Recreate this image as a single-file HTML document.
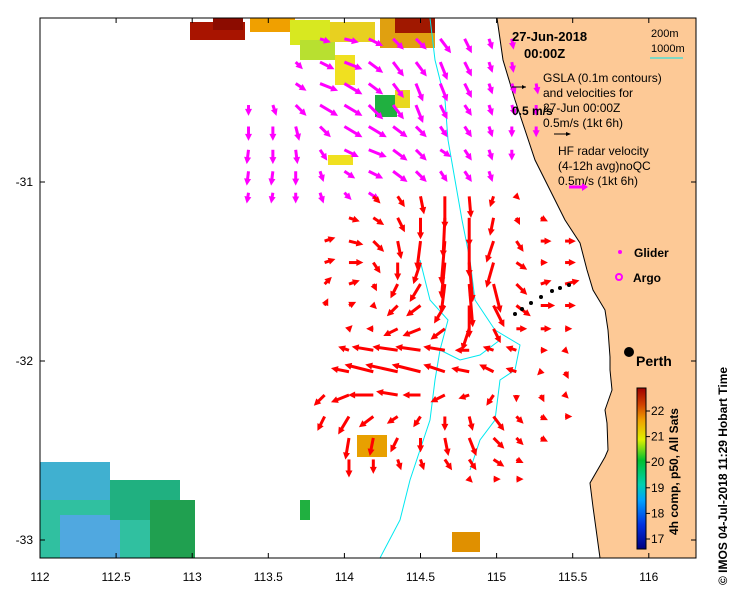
<!DOCTYPE html>
<html><head><meta charset="utf-8"><style>
body{margin:0;background:#fff;font-family:"Liberation Sans",sans-serif}
svg text{font-family:"Liberation Sans",sans-serif}
</style></head><body>
<svg id="c" width="739" height="592" xmlns="http://www.w3.org/2000/svg">
<rect width="739" height="592" fill="#fff"/>
<g id="sst">
<rect x="190" y="22" width="55" height="18" fill="#a81400"/>
<rect x="213" y="18" width="30" height="12" fill="#8c0c00"/>
<rect x="250" y="18" width="45" height="14" fill="#f0a000"/>
<rect x="290" y="20" width="40" height="25" fill="#d8e820"/>
<rect x="300" y="40" width="35" height="20" fill="#b8e030"/>
<rect x="330" y="22" width="45" height="20" fill="#e8d020"/>
<rect x="380" y="18" width="55" height="30" fill="#e0a010"/>
<rect x="395" y="18" width="40" height="15" fill="#a01800"/>
<rect x="335" y="55" width="20" height="30" fill="#f0e020"/>
<rect x="375" y="95" width="22" height="22" fill="#20b040"/>
<rect x="395" y="90" width="15" height="18" fill="#e8d820"/>
<rect x="328" y="155" width="25" height="10" fill="#f0e020"/>
<rect x="357" y="435" width="30" height="22" fill="#e8a000"/>
<rect x="452" y="532" width="28" height="20" fill="#e09000"/>
<rect x="40" y="462" width="70" height="40" fill="#40b0d0"/>
<rect x="40" y="500" width="120" height="58" fill="#30c0a0"/>
<rect x="60" y="515" width="60" height="43" fill="#50a8e0"/>
<rect x="110" y="480" width="70" height="40" fill="#20b080"/>
<rect x="150" y="500" width="45" height="58" fill="#20a050"/>
<rect x="300" y="500" width="10" height="20" fill="#20b040"/>
</g>
<path d="M497,18 L503,60 L515,100 L525,130 L535,160 L550,190 L565,220 L580,243 L587,270 L593,290 L605,310 L608,330 L610,357 L610,370 L612,390 L605,410 L607,423 L608,450 L605,457 L590,483 L593,507 L600,558 L696,558 L696,18 Z" fill="#fdc996" stroke="#000" stroke-width="1"/>
<g fill="none" stroke="#00e8f0" stroke-width="1">
<path d="M430,18 L435,60 L445,100 L448,140 L455,180 L462,220 L470,260 L475,300 L495,330 L520,345 L515,370 L500,380 L495,420 L480,440 L470,470"/>
<path d="M420,260 L430,300 L448,320 L440,350 L435,380 L430,420 L420,450 L410,480 L400,520 L380,558"/>
<path d="M440,350 L460,360 L480,355 L500,340"/>
</g>
<g id="arrows"></g>
<g fill="#000">
<circle cx="515" cy="314" r="2"/><circle cx="522" cy="309" r="2"/><circle cx="531" cy="303" r="2"/><circle cx="541" cy="297" r="2"/><circle cx="552" cy="291" r="2"/><circle cx="560" cy="288" r="2"/><circle cx="569" cy="285" r="2"/>
</g>
<rect x="40" y="18" width="656" height="540" fill="none" stroke="#000"/>
<g id="axes"></g>
<g font-weight="bold" font-size="13"><text x="512" y="41">27-Jun-2018</text><text x="524" y="58">00:00Z</text></g>
<g font-size="11"><text x="651" y="37">200m</text><text x="651" y="52">1000m</text><line x1="650" y1="58" x2="683" y2="58" stroke="#00e8f0"/></g>
<g font-size="12">
<text x="543" y="82">GSLA (0.1m contours)</text><text x="543" y="97">and velocities for</text><text x="543" y="112">27-Jun 00:00Z</text><text x="543" y="127">0.5m/s (1kt 6h)</text>
<line x1="512" y1="87" x2="526" y2="87" stroke="#000"/><path d="M526,87 l-4,-2 v4z"/>
<line x1="554" y1="134" x2="570" y2="134" stroke="#000"/><path d="M571,134 l-5,-2 v4z"/>
<text x="512" y="115" font-weight="bold" font-size="12">0.5 m/s</text>
<text x="558" y="155">HF radar velocity</text><text x="558" y="170">(4-12h avg)noQC</text><text x="558" y="185">0.5m/s (1kt 6h)</text>
<line x1="569" y1="187" x2="583" y2="187" stroke="#ff00ff" stroke-width="3"/><path d="M588,187 l-6,-4 v8z" fill="#ff00ff"/>
</g>
<g font-size="12" font-weight="bold">
<circle cx="620" cy="252" r="2" fill="#ff00ff"/><text x="634" y="257">Glider</text>
<circle cx="619" cy="277" r="3" fill="none" stroke="#ff00ff" stroke-width="2"/><text x="633" y="282">Argo</text>
</g>
<g><circle cx="629" cy="352" r="5" fill="#000"/><text x="636" y="366" font-size="14" font-weight="bold">Perth</text></g>
<defs><linearGradient id="cb" x1="0" y1="1" x2="0" y2="0">
<stop offset="0" stop-color="#000080"/><stop offset="0.15" stop-color="#0030e0"/><stop offset="0.3" stop-color="#00a0ff"/><stop offset="0.4" stop-color="#00d0b0"/><stop offset="0.55" stop-color="#00c030"/><stop offset="0.68" stop-color="#e0f000"/><stop offset="0.8" stop-color="#f0a000"/><stop offset="0.9" stop-color="#d04000"/><stop offset="1" stop-color="#a00000"/></linearGradient></defs>
<g>
<rect x="637" y="388" width="9" height="161" fill="url(#cb)" stroke="#000"/>
<g id="cbticks" font-size="12"></g>
<text transform="translate(678,535) rotate(-90)" font-size="12" font-weight="bold">4h comp, p50, All Sats</text>
</g>
<text transform="translate(727,585) rotate(-90)" font-size="12" font-weight="bold">© IMOS 04-Jul-2018 11:29 Hobart Time</text>
</svg>
<script>
const xTicks=[112,112.5,113,113.5,114,114.5,115,115.5,116];
const xTickLabels=["112","112.5","113","113.5","114","114.5","115","115.5","116"];
const yTicks=[-31,-32,-33];
const yTickLabels=["-31","-32","-33"];
const cbTicks=[17,18,19,20,21,22];
const redLon=[113.87,114.03,114.19,114.35,114.5,114.66,114.82,114.98,115.13,115.29,115.45,115.61];
const redLat=[-31.08,-31.2,-31.33,-31.45,-31.57,-31.69,-31.82,-31.94,-32.06,-32.19,-32.31,-32.43,-32.55,-32.66];
const redU=[
[null,null,.2,.2,.1,0,.05,-.1,.1,null,null,null],
[null,.3,.3,.2,0,-.05,0,-.1,.1,.2,null,null],
[.3,.4,.3,.1,-.1,-.1,0,-.2,.2,.3,.3,null],
[.3,.4,.2,0,-.2,-.1,.1,-.2,.3,.2,.3,null],
[.2,.3,.1,-.2,-.3,-.1,.1,.2,.3,.3,.4,null],
[.1,.2,.1,-.3,-.4,-.3,0,.3,.4,.4,.3,null],
[null,.1,-.2,-.4,-.5,-.4,-.2,.2,.3,.3,.2,null],
[null,-.3,-.6,-.7,-.7,-.6,-.4,-.3,-.3,.2,.1,null],
[null,-.5,-.8,-.9,-.8,-.6,-.5,-.4,-.3,-.1,.1,null],
[-.3,-.5,-.7,-.6,-.5,-.4,-.3,-.2,0,.1,.1,null],
[-.2,-.3,-.4,-.3,-.2,0,.1,.3,.2,.2,.2,null],
[null,-.1,-.1,-.2,0,.1,.2,.3,.2,.2,null,null],
[null,0,0,.1,.1,.2,.2,.3,.2,null,null,null],
[null,null,null,null,null,null,.1,.2,.2,null,null,null]];
const redV=[
[null,null,-.2,-.3,-.5,-.9,-.6,-.3,-.1,null,null,null],
[null,-.1,-.2,-.4,-.6,-1.1,-.8,-.5,-.2,-.1,null,null],
[.1,-.1,-.3,-.5,-.8,-1.2,-1,-.6,-.3,0,0,null],
[.1,0,-.3,-.5,-.6,-1,-1.1,-.7,-.2,0,0,null],
[.2,.1,-.2,-.4,-.5,-.8,-1.2,-.8,-.3,.1,.1,null],
[.2,.1,-.1,-.3,-.3,-.5,-.9,-.6,-.3,0,0,null],
[null,.1,0,-.2,-.2,-.3,-.6,-.4,0,0,0,null],
[null,.1,.1,.1,.1,.1,0,.1,.1,0,-.1,null],
[null,.1,.2,.2,.2,.2,.1,.2,.1,-.1,-.2,null],
[-.3,-.2,0,.1,0,-.2,-.1,-.3,-.2,-.2,-.1,null],
[-.4,-.5,-.3,-.2,-.3,-.4,-.4,-.4,-.2,-.1,0,null],
[null,-.6,-.5,-.4,-.4,-.5,-.5,-.3,-.2,-.1,null,null],
[null,-.5,-.4,-.3,-.3,-.3,-.3,-.2,-.1,null,null,null],
[null,null,null,null,null,null,-.1,0,0,null,null,null]];
const magLon=[113.37,113.53,113.68,113.84,114,114.16,114.32,114.47,114.63,114.79,114.95,115.1,115.26];
const magLat=[-30.2,-30.33,-30.45,-30.57,-30.69,-30.82,-30.94,-31.06];
const magU=[
[null,null,null,.3,.4,.4,.3,.3,.3,.2,.1,.05,null],
[null,null,.2,.4,.5,.4,.3,.3,.2,.2,.1,.05,null],
[null,null,.3,.5,.5,.4,.3,.2,.2,.2,.1,.1,.05],
[0,.1,.3,.5,.5,.4,.3,.2,.2,.2,.1,.1,0],
[0,0,.1,.3,.5,.5,.4,.3,.2,.2,.1,0,0],
[-.05,0,.05,.2,.4,.5,.4,.3,.3,.2,.1,0,null],
[-.05,-.05,0,.1,.3,.4,.4,.3,.2,.2,.1,null,null],
[-.05,-.05,0,.1,.2,.3,null,null,null,null,null,null,null]];
const magV=[
[null,null,null,-.1,-.1,-.2,-.3,-.3,-.4,-.4,-.3,-.3,null],
[null,null,-.2,-.2,-.2,-.3,-.4,-.4,-.5,-.4,-.3,-.3,null],
[null,null,-.2,-.2,-.3,-.3,-.4,-.5,-.5,-.4,-.3,-.3,-.3],
[-.3,-.3,-.3,-.3,-.3,-.4,-.4,-.5,-.4,-.3,-.3,-.3,-.3],
[-.4,-.4,-.4,-.3,-.3,-.3,-.3,-.3,-.3,-.3,-.3,-.3,-.3],
[-.4,-.4,-.4,-.3,-.2,-.2,-.3,-.3,-.2,-.3,-.3,-.3,null],
[-.4,-.4,-.4,-.3,-.2,-.2,-.3,-.3,-.3,-.3,-.3,null,null],
[-.3,-.3,-.3,-.3,-.2,-.2,null,null,null,null,null,null,null]];
const NS='http://www.w3.org/2000/svg';
const X=lon=>40+(lon-112)*152.2;
const Y=lat=>182+(-31-lat)*179;
const CB=t=>411+(22-t)*25.6;
const SC=36;
function mk(tag,attrs,parent){const e=document.createElementNS(NS,tag);for(const k in attrs)e.setAttribute(k,attrs[k]);parent.appendChild(e);return e;}
const ax=document.getElementById('axes');
xTicks.forEach((t,i)=>{
 const x=X(t);
 const tk=mk('path',{d:`M${x},558 v-5 M${x},18 v5`,stroke:'#000'},ax);
 
 
 const tx=mk('text',{x:x,y:581,'text-anchor':'middle','font-size':12},ax);
 tx.textContent=xTickLabels[i];
 
 
});
yTicks.forEach((t,i)=>{
 const y=Y(t);
 const tk=mk('path',{d:`M40,${y} h5 M696,${y} h-5`,stroke:'#000'},ax);
 
 
 const tx=mk('text',{x:33,y:y+4,'text-anchor':'end','font-size':12},ax);
 tx.textContent=yTickLabels[i];
 
 
});
const cbg=document.getElementById('cbticks');
cbTicks.forEach(t=>{
 const y=CB(t);
 mk('line',{x1:646,x2:650,y1:y,y2:y,stroke:'#000'},cbg);
 const tx=mk('text',{x:651,y:y+4},cbg);
 tx.textContent=t;
 
 
});
const ag=document.getElementById('arrows');
function arrow(x,y,u,v,col,w){
 const dx=u*SC,dy=-v*SC,L=Math.hypot(dx,dy);if(L<1)return;
 const ux=dx/L,uy=dy/L,x2=x+dx,y2=y+dy;
 const g=mk('g',{},ag);
 mk('line',{x1:x,y1:y,x2:x2-ux*4,y2:y2-uy*4,stroke:col,'stroke-width':w},g);
 mk('path',{d:`M${x2},${y2} L${x2-ux*7-uy*3.5},${y2-uy*7+ux*3.5} L${x2-ux*7+uy*3.5},${y2-uy*7-ux*3.5}Z`,fill:col},g);
 return g;
}
magLat.forEach((la,r)=>magLon.forEach((lo,c)=>{
 if(magU[r][c]==null)return;
 const g=arrow(X(lo),Y(la),magU[r][c],magV[r][c],'#ff00ff',3);
 if(g){
 }
}));
redLat.forEach((la,r)=>redLon.forEach((lo,c)=>{
 if(redU[r][c]==null)return;
 const g=arrow(X(lo),Y(la),redU[r][c],redV[r][c],'#ff0000',3);
 if(g){
 }
}));
</script>
</body></html>
